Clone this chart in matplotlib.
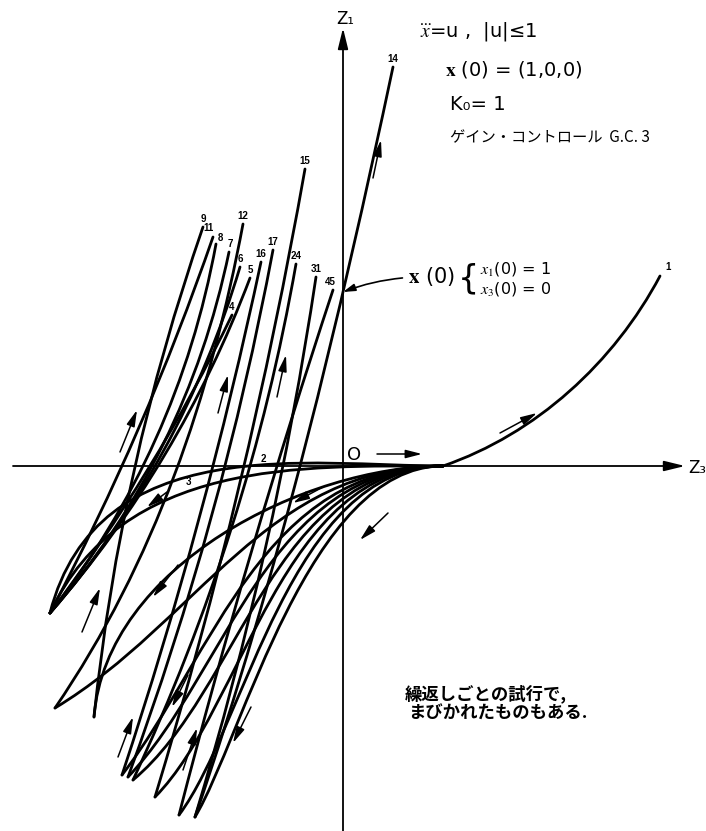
import numpy as np
import matplotlib
matplotlib.use('Agg')
import matplotlib.pyplot as plt
from matplotlib.path import Path
from matplotlib.patches import PathPatch
from math import comb

plt.rcParams['font.family'] = ['Liberation Sans', 'Noto Sans CJK JP', 'DejaVu Sans']
plt.rcParams['mathtext.fontset'] = 'stix'

# phase plane (Z3 horizontal, Z1 vertical)
P = (1.00, 0.00)          # point on Z3 where the trials converge
A = (-2.93, -1.47)        # switching tips at the lower left
B = (-2.49, -2.51)
C = (-2.21, -3.09)
D = (-2.15, -3.11)
E = (-2.10, -3.14)
F = (-1.88, -3.31)
G = (-1.64, -3.49)
H = (-1.48, -3.51)
I = (-2.88, -2.42)

# curves leaving P to the lower left: start, points on the way, tip
fan_curves = [
    [P, (-0.80, -0.03), (-1.80, -0.16), A],
    [P, (-0.50, -0.06), (-1.55, -0.21), (-2.10, -0.55), A],
    [P, (0.00, -0.10), (-0.93, -0.80), I],
    [P, (0.00, -0.12), (-1.10, -0.75), (-2.13, -1.40), B],
    [P, (0.00, -0.16), (-1.48, -1.96), C],
    [P, (0.00, -0.27), (-1.41, -2.06), D],
    [P, (0.00, -0.38), (-1.33, -2.14), E],
    [P, (0.00, -0.50), (-1.21, -2.24), F],
    [P, (0.00, -0.62), (-1.03, -2.21), G],
    [P, (0.00, -0.77), (-0.90, -2.11), H],
]

# rising branches, each ends at its trial number
rise_labels = ['9', '11', '8', '7', '6', '5', '4',
               '12', '16', '17', '15', '24', '45', '31', '14']
rise_curves = [
    [B, (-2.08, 0.00), (-1.40, 2.39)],
    [A, (-2.21, 0.00), (-1.30, 2.29)],
    [A, (-2.00, 0.00), (-1.27, 2.22)],
    [A, (-1.91, 0.00), (-1.14, 2.14)],
    [A, (-1.88, 0.00), (-1.03, 1.99)],
    [A, (-1.85, 0.00), (-0.93, 1.88)],
    [A, (-1.93, 0.00), (-1.11, 1.51)],
    [I, (-1.56, 0.26), (-1.16, 1.66), (-1.00, 2.42)],
    [C, (-1.30, 0.00), (-0.82, 2.04)],
    [D, (-1.18, 0.00), (-0.70, 2.16)],
    [F, (-0.99, 0.00), (-0.38, 2.97)],
    [E, (-0.93, 0.00), (-0.47, 2.02)],
    [G, (-0.66, 0.00), (-0.10, 1.76)],
    [H, (-0.60, 0.00), (-0.27, 1.89)],
    [H, (-0.43, 0.00), (0.00, 1.74), (0.50, 3.99)],
]

# trial 1 leaves P to the upper right
curve_1 = [P, (1.90, 0.46), (2.90, 1.46), (3.17, 1.90)]

# labels written on the fan itself
fan_labels = ['2', '3']
fan_label_xy = [(-0.80, 0.07), (-1.55, -0.16)]

# small direction arrows drawn beside the curves (tail, head)
arrow_tail = [(-2.23, 0.14), (-1.25, 0.53), (-0.66, 0.69), (-1.76, -0.26),
              (-0.20, -0.21), (-1.65, -0.99), (-2.61, -1.66), (-2.25, -2.91),
              (-1.60, -3.04), (-0.92, -2.41), (-1.55, -2.09), (0.45, -0.47),
              (1.57, 0.33), (0.34, 0.12), (0.30, 2.88)]
arrow_head = [(-2.06, 0.56), (-1.15, 0.91), (-0.57, 1.11), (-1.96, -0.41),
              (-0.50, -0.37), (-1.90, -1.31), (-2.43, -1.22), (-2.10, -2.51),
              (-1.46, -2.62), (-1.10, -2.77), (-1.71, -2.41), (0.17, -0.74),
              (1.94, 0.53), (0.79, 0.12), (0.38, 3.26)]

x0_point = (0.00, 1.74)


def chord_params(pts):
    d = np.r_[0, np.cumsum(np.hypot(*np.diff(pts, axis=0).T))]
    return d / d[-1]


def bezier(pts):
    """Bezier path that passes through the read points."""
    pts = np.asarray(pts, float)
    n = len(pts) - 1
    t = chord_params(pts)
    M = np.array([[comb(n, k) * tt**k * (1 - tt)**(n - k) for k in range(n + 1)] for tt in t])
    ctrl = np.linalg.solve(M, pts)
    code = Path.CURVE3 if n == 2 else Path.CURVE4
    return Path(ctrl, [Path.MOVETO] + [code] * n)


def fan_bezier(pts):
    """Cubic leaving the first point along the Z3 axis, fitted to the read points."""
    pts = np.asarray(pts, float)
    p0, p3 = pts[0], pts[-1]
    t = chord_params(pts)[1:-1]
    rows, rhs = [], []
    for tt, m in zip(t, pts[1:-1]):
        b0, b1, b2, b3 = (1 - tt)**3, 3 * (1 - tt)**2 * tt, 3 * (1 - tt) * tt**2, tt**3
        rows.append([b1, b2, 0]); rhs.append(m[0] - b0 * p0[0] - b3 * p3[0])
        rows.append([0, 0, b2]); rhs.append(m[1] - (b0 + b1) * p0[1] - b3 * p3[1])
    c1x, c2x, c2y = np.linalg.lstsq(np.array(rows), np.array(rhs), rcond=None)[0]
    ctrl = [p0, (c1x, p0[1]), (c2x, c2y), p3]
    return Path(ctrl, [Path.MOVETO] + [Path.CURVE4] * 3)


fig = plt.figure(figsize=(7.06, 8.31), dpi=100)
ax = fig.add_axes([0, 0, 1, 1])
ax.set_xlim(-3.43, 3.63)
ax.set_ylim(-3.65, 4.66)
ax.axis('off')

lw = 2.0
for pts in fan_curves:
    ax.add_patch(PathPatch(fan_bezier(pts), fill=False, lw=lw, ec='black',
                           capstyle='round', joinstyle='round'))
for pts in rise_curves + [curve_1]:
    ax.add_patch(PathPatch(bezier(pts), fill=False, lw=lw, ec='black',
                           capstyle='round', joinstyle='round'))

# axes with arrow heads
head = '-|>,head_length=0.9,head_width=0.22'
ax.annotate('', xy=(3.42, 0), xytext=(-3.30, 0),
            arrowprops=dict(arrowstyle=head, lw=1.3, color='black',
                            mutation_scale=14, shrinkA=0, shrinkB=0))
ax.annotate('', xy=(0, 4.38), xytext=(0, -3.66),
            arrowprops=dict(arrowstyle=head, lw=1.3, color='black',
                            mutation_scale=14, shrinkA=0, shrinkB=0))
ax.text(0.02, 4.47, 'Z₁', fontsize=12, ha='center', va='center', family='DejaVu Sans')
ax.text(3.45, -0.02, 'Z₃', fontsize=12, ha='left', va='center', family='DejaVu Sans')
ax.text(0.04, 0.11, 'O', fontsize=13, ha='left', va='center', family='DejaVu Sans')

# direction arrows
for tail, hd in zip(arrow_tail, arrow_head):
    ax.annotate('', xy=hd, xytext=tail,
                arrowprops=dict(arrowstyle='-|>,head_length=0.7,head_width=0.18',
                                lw=1.1, color='black', mutation_scale=14,
                                shrinkA=0, shrinkB=0))

# trial numbers
label_shift = {'11': (-3, 1), '8': (3, -1), '7': (1, 0), '45': (-2, 0)}
for lab, pts in zip(rise_labels, rise_curves):
    dx, dy = label_shift.get(lab, (0, 0))
    ax.annotate(lab, xy=pts[-1], xytext=(dx, 2 + dy), textcoords='offset points',
                ha='center', va='bottom', fontsize=7, fontweight='bold')
for lab, xy in zip(fan_labels, fan_label_xy):
    ax.text(*xy, lab, fontsize=7, fontweight='bold', ha='center', va='center')
ax.annotate('1', xy=curve_1[-1], xytext=(4, 3), textcoords='offset points',
            ha='left', va='bottom', fontsize=7, fontweight='bold')

# header text
ax.text(0.77, 4.35, r'$\dddot{x}$=u ,  |u|≤1', fontsize=14, ha='left', va='center',
        family='DejaVu Sans')
ax.text(1.02, 3.96, r'$\mathbf{x}$ (0) = (1,0,0)', fontsize=14, ha='left', va='center',
        family='DejaVu Sans')
ax.text(1.07, 3.61, 'K₀= 1', fontsize=14, ha='left', va='center', family='DejaVu Sans')
ax.text(1.07, 3.28, 'ゲイン・コントロール  G.C. 3', fontsize=11, ha='left', va='center',
        family=['Noto Sans CJK JP', 'DejaVu Sans'])

# initial state note
ax.annotate(r'$\mathbf{x}$ (0)', xy=x0_point, xytext=(0.65, 1.89),
            fontsize=15, ha='left', va='center', family='DejaVu Sans',
            arrowprops=dict(arrowstyle='-|>,head_length=0.6,head_width=0.18', lw=1.2,
                            color='black', mutation_scale=12, shrinkA=2, shrinkB=0,
                            connectionstyle='arc3,rad=0.1'))
ax.text(1.15, 1.87, '{', fontsize=24, ha='left', va='center', family='DejaVu Sans')
ax.text(1.37, 1.97, r'$x_1$(0) = 1', fontsize=11.5, ha='left', va='center',
        family='DejaVu Sans')
ax.text(1.37, 1.77, r'$x_3$(0) = 0', fontsize=11.5, ha='left', va='center',
        family='DejaVu Sans')

ax.text(0.62, -2.28, '繰返しごとの試行で,', fontsize=12.5, ha='left', va='center',
        family=['Noto Sans CJK JP', 'DejaVu Sans'], fontweight='bold')
ax.text(0.65, -2.48, 'まびかれたものもある.', fontsize=12.5, ha='left', va='center',
        family=['Noto Sans CJK JP', 'DejaVu Sans'], fontweight='bold')

fig.savefig('out.png', dpi=100)
